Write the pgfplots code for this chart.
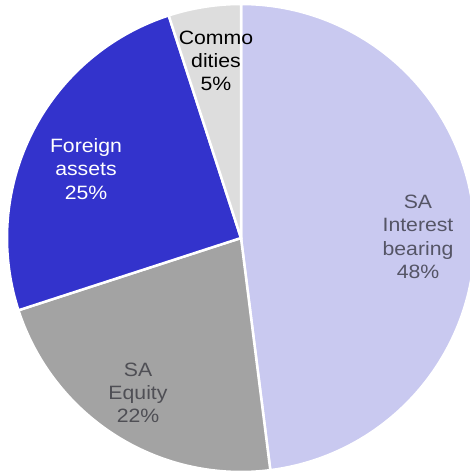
\documentclass[border=0pt]{standalone}
\usepackage{pgfplots}
\pgfplotsset{compat=1.18}
\usepackage{fontspec}
\setmainfont{Liberation Sans}
\definecolor{cInt}{HTML}{C9C9F0}
\definecolor{cEq}{HTML}{A3A3A3}
\definecolor{cFor}{HTML}{3333CC}
\definecolor{cCom}{HTML}{DDDDDD}
\definecolor{tInt}{HTML}{555566}
\definecolor{tEq}{HTML}{4F4F55}
% shares (percent), clockwise from 12 o'clock
\def\pInt{48}\def\pEq{22}\def\pFor{25}\def\pCom{5}
\pgfmathsetmacro\aA{90}
\pgfmathsetmacro\aB{\aA-3.6*\pInt}
\pgfmathsetmacro\aC{\aB-3.6*\pEq}
\pgfmathsetmacro\aD{\aC-3.6*\pFor}
\pgfmathsetmacro\aE{\aD-3.6*\pCom}
\def\cx{241}\def\cy{237}\def\rr{234}
\begin{document}
\begin{tikzpicture}
\begin{axis}[
  width=470pt, height=475pt, scale only axis,
  xmin=0, xmax=470, ymin=0, ymax=475,
  hide axis, clip=true,
]
\addplot[fill=cInt, draw=white, line width=2.5pt, domain=\aB:\aA, samples=120, variable=\t]
  ({\cx+\rr*cos(\t)},{\cy+\rr*sin(\t)}) -- (\cx,\cy) -- cycle;
\addplot[fill=cEq, draw=white, line width=2.5pt, domain=\aC:\aB, samples=80, variable=\t]
  ({\cx+\rr*cos(\t)},{\cy+\rr*sin(\t)}) -- (\cx,\cy) -- cycle;
\addplot[fill=cFor, draw=white, line width=2.5pt, domain=\aD:\aC, samples=80, variable=\t]
  ({\cx+\rr*cos(\t)},{\cy+\rr*sin(\t)}) -- (\cx,\cy) -- cycle;
\addplot[fill=cCom, draw=white, line width=2.5pt, domain=\aE:\aD, samples=30, variable=\t]
  ({\cx+\rr*cos(\t)},{\cy+\rr*sin(\t)}) -- (\cx,\cy) -- cycle;
\begin{scope}[every node/.style={align=center, font=\fontsize{19.3}{23.3}\selectfont, xscale=1.1, transform shape}]
\node[text=tInt] at (418,238) {SA\\Interest\\bearing\\\pInt\%};
\node[text=tEq] at (138,82) {SA\\Equity\\\pEq\%};
\node[text=white] at (86,306) {Foreign\\assets\\\pFor\%};
\node[text=black] at (216,414) {Commo\\dities\\\pCom\%};
\end{scope}
\end{axis}
\pgfresetboundingbox
\path (current axis.south west) rectangle (current axis.north east);
\end{tikzpicture}
\end{document}
